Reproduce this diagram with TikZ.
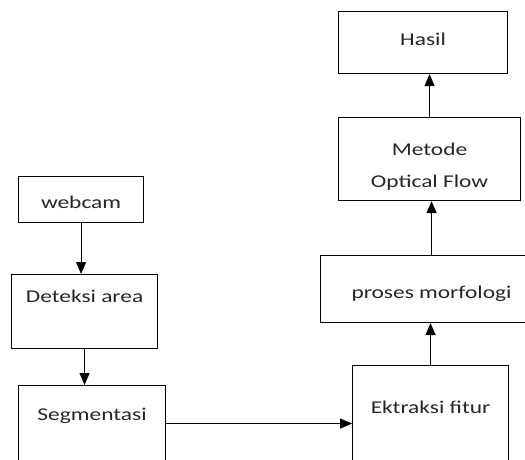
\documentclass[tikz,border=0pt]{standalone}
\usepackage{fontspec}
\setmainfont{Carlito}[FakeStretch=1.3]
\usetikzlibrary{arrows.meta}
\begin{document}
\begin{tikzpicture}[x=1pt,y=1pt,line width=1.1pt,
 box/.style={draw,inner sep=0pt,anchor=north west,align=center,text=black!85,font=\fontsize{18}{28}\selectfont},
 arr/.style={-{Triangle[width=10pt,length=12pt]}}]
\useasboundingbox (0,0) rectangle (525,459);
\clip (0,0) rectangle (525,459);
\node[box,minimum width=125pt,text height=32pt,text depth=14pt] (webcam) at (18,283) {webcam};
\node[box,minimum width=146pt,text height=28pt,text depth=46pt] (deteksi) at (11,185) {Deteksi area};
\node[box,minimum width=147pt,text height=35pt,text depth=41pt] (segmentasi) at (18,74) {Segmentasi};
\node[box,minimum width=156pt,text height=48pt,text depth=70pt] (ektraksi) at (352,94) {Ektraksi fitur};
\node[box,minimum width=222pt,text height=43pt,text depth=24pt] (proses) at (320,204) {proses morfologi};
\node[box,minimum width=182pt,minimum height=83pt] (metode) at (338,342) {\rule{0pt}{27pt}Metode\\[4pt]Optical Flow};
\node[box,minimum width=169pt,text height=34pt,text depth=28pt] (hasil) at (338,448) {Hasil};
\draw[arr] (webcam) -- (webcam |- deteksi.north);
\draw[arr] (deteksi) -- (deteksi |- segmentasi.north);
\draw[arr] (segmentasi) -- (segmentasi -| ektraksi.west);
\draw[arr] (ektraksi) -- (ektraksi |- proses.south);
\draw[arr] (proses) -- (proses |- metode.south);
\draw[arr] (metode) -- (metode |- hasil.south);
\end{tikzpicture}
\end{document}
